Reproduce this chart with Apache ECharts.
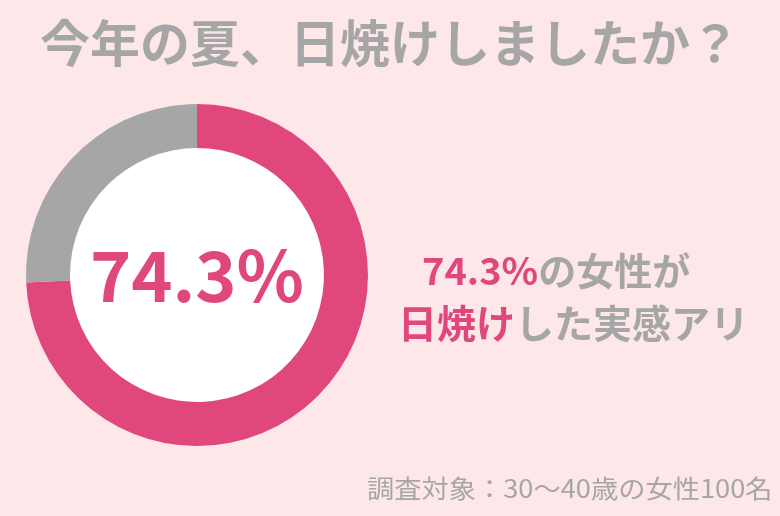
<!DOCTYPE html>
<html>
<head>
<meta charset="utf-8">
<script src="https://cdn.jsdelivr.net/npm/echarts@6/dist/echarts.min.js"></script>
<style>
  html, body { margin: 0; padding: 0; background: #fde7e8; }
  #main { width: 780px; height: 516px; }
</style>
</head>
<body>
<div id="main"></div>
<script>
// survey answers (percent)
const categories = ['日焼けした', '日焼けしていない'];
const values = [74.3, 25.7];
const colors = ['#e0487d', '#a6a6a6'];

const chartDom = document.getElementById('main');
const myChart = echarts.init(chartDom);

const font = '"Noto Sans CJK JP", "Noto Sans", sans-serif';
const gray = '#a6a6a6';
const pink = '#e0487d';

const option = {
  backgroundColor: '#fde7e8',
  title: {
    text: '今年の夏、日焼けしましたか？',
    left: 'center',
    top: 13,
    textStyle: {
      color: gray,
      fontSize: 50,
      fontWeight: 'bold',
      fontFamily: font
    }
  },
  graphic: [
    {
      type: 'text',
      left: 422,
      top: 252,
      style: {
        text: '{a|' + values[0] + '%}{b|の女性が}',
        rich: {
          a: { fontSize: 38, fontWeight: 'bold', fill: pink, fontFamily: font },
          b: { fontSize: 38, fontWeight: 'bold', fill: gray, fontFamily: font }
        }
      }
    },
    {
      type: 'text',
      left: 398,
      top: 304,
      style: {
        text: '{a|日焼け}{b|した実感アリ}',
        rich: {
          a: { fontSize: 39, fontWeight: 'bold', fill: pink, fontFamily: font },
          b: { fontSize: 39, fontWeight: 'bold', fill: gray, fontFamily: font }
        }
      }
    },
    {
      // footnote is slightly letter-spaced in the original
      type: 'text',
      x: 367,
      y: 476,
      scaleX: 1.09,
      style: {
        text: '調査対象：30〜40歳の女性100名',
        fontSize: 25,
        fill: gray,
        fontFamily: font
      }
    }
  ],
  series: [
    {
      // white inner disc
      type: 'pie',
      center: [197, 275],
      radius: [0, 127],
      silent: true,
      label: {
        show: true,
        position: 'center',
        formatter: values[0] + '%',
        color: pink,
        fontSize: 70,
        fontWeight: 'bold',
        fontFamily: font
      },
      labelLine: { show: false },
      itemStyle: { color: '#ffffff' },
      data: [{ value: 1, name: '' }]
    },
    {
      type: 'pie',
      center: [197, 275],
      radius: [127, 171],
      startAngle: 90,
      clockwise: true,
      silent: true,
      label: { show: false },
      labelLine: { show: false },
      data: categories.map((name, i) => ({
        name: name,
        value: values[i],
        itemStyle: { color: colors[i] }
      }))
    }
  ]
};

myChart.setOption(option);
</script>
</body>
</html>
